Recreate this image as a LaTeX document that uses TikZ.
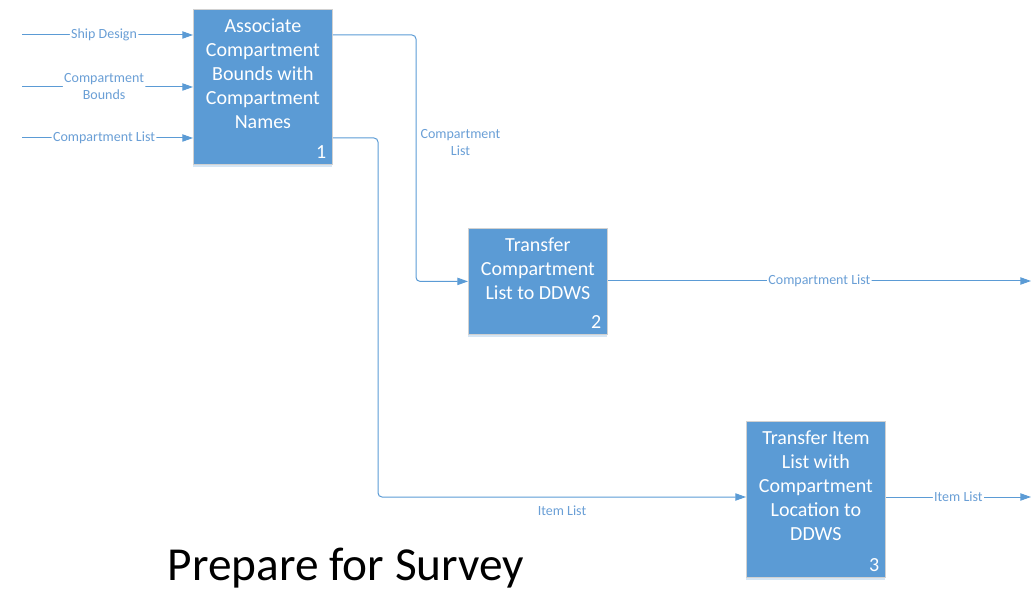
\documentclass[tikz,border=0pt]{standalone}
\usepackage{fontspec}
\setmainfont{Carlito}
\usetikzlibrary{arrows.meta,shadows}

\definecolor{boxblue}{HTML}{5B9BD5}
\definecolor{lineblue}{HTML}{5B9BD5}
\definecolor{labelblue}{HTML}{6A9FD6}

\tikzset{
  func/.style={draw=black!18, line width=0.6pt, fill=boxblue, inner sep=0pt,
    minimum width=104.25pt, anchor=north west,
    drop shadow={shadow xshift=0pt, shadow yshift=-2.2pt, fill=boxblue!25, opacity=1}},
  boxtext/.style={anchor=north, text=white, align=center, label distance=-3.5pt,
    font=\fontsize{15}{18}\selectfont},
  boxnum/.style={anchor=south east, text=white, inner sep=4pt, label distance=-1pt,
    font=\fontsize{15}{18}\selectfont},
  flow/.style={draw=lineblue, line width=0.75pt, rounded corners=3pt,
    -{Triangle[length=8pt,width=5.5pt]}},
  lbl/.style={fill=white, text=labelblue, inner sep=1pt, align=center,
    font=\fontsize{10.5}{12.75}\selectfont}
}

\begin{document}
\begin{tikzpicture}[x=0.75pt,y=-0.75pt]

	\useasboundingbox (0,0) rectangle (1031,591);

	% functions
	\node [func, minimum height=116.25pt,
	  label={[boxtext]north:Associate\\Compartment\\Bounds with\\Compartment\\Names},
	  label={[boxnum]south east:1}] (b1) at (193,9) {};
	\node [func, minimum height=79.5pt,
	  label={[boxtext]north:Transfer\\Compartment\\List to DDWS},
	  label={[boxnum]south east:2}] (b2) at (468,228) {};
	\node [func, minimum height=117pt,
	  label={[boxtext]north:Transfer Item\\List with\\Compartment\\Location to\\DDWS},
	  label={[boxnum]south east:3}] (b3) at (746,421) {};

	\coordinate (s1) at (22,35);
	\coordinate (s2) at (22,87);
	\coordinate (s3) at (22,138);
	\coordinate (k1) at (416,35);
	\coordinate (k2) at (378,497);
	\coordinate (e2) at (1031,281);
	\coordinate (e3) at (1031,497);

	% inputs
	\draw [flow] (s1) -- node [lbl, pos=0.48] {Ship Design} (s1 -| b1.west);
	\draw [flow] (s2) -- node [lbl, pos=0.48] {Compartment\\Bounds} (s2 -| b1.west);
	\draw [flow] (s3) -- node [lbl, pos=0.48] {Compartment List} (s3 -| b1.west);

	% links
	\draw [flow] (b1.east |- s1) -- (k1) |- (b2.west);
	\node [lbl, fill=none, anchor=west] (cl1) at (419,143) {Compartment\\List};
	\draw [flow] (b1.east |- s3) -| (k2) -- node [lbl, fill=none, below=5pt] {Item List} (k2 -| b3.west);

	% outputs
	\draw [flow] (b2.east |- e2) -- node [lbl] {Compartment List} (e2);
	\draw [flow] (b3.east |- e3) -- node [lbl] {Item List} (e3);

	\node [font=\fontsize{35.5}{42}\selectfont] (title) at (346,568) {Prepare for Survey};

\end{tikzpicture}
\end{document}
